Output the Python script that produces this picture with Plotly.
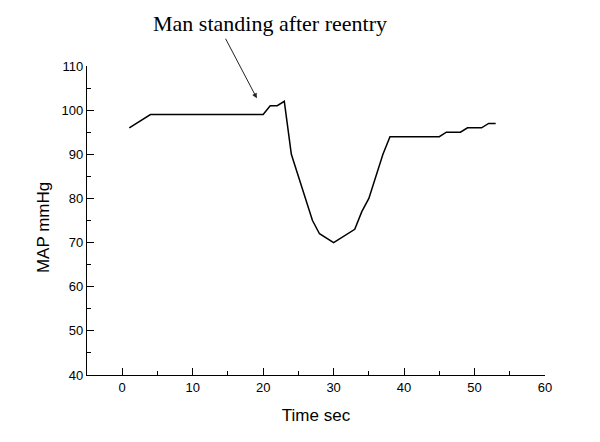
import plotly.graph_objects as go

time_sec = [1, 4, 20, 21, 22, 23, 24, 25, 26, 27, 28, 30, 33, 34, 35, 36, 37, 38, 45, 46, 48, 49, 51, 52, 53]
map_mmhg = [96, 99, 99, 101, 101, 102, 90, 85, 80, 75, 72, 70, 73, 77, 80, 85, 90, 94, 94, 95, 95, 96, 96, 97, 97]

annot_text = "Man standing after reentry"
x_title = "Time sec"
y_title = "MAP mmHg"
arrow_x = 19.1
arrow_y = 102.7

fig = go.Figure()
fig.add_trace(go.Scatter(x=time_sec, y=map_mmhg, mode="lines",
                         line=dict(color="black", width=1.5), showlegend=False))

# arrow
fig.add_annotation(x=arrow_x, y=arrow_y, xref="x", yref="y", text="",
                   showarrow=True, arrowhead=2, arrowsize=1, arrowwidth=1, arrowcolor="#222",
                   ax=-32, ay=-61, standoff=0)
# text
fig.add_annotation(x=0.40, y=1.139, xref="paper", yref="paper", text=annot_text,
                   showarrow=False, xanchor="center", yanchor="middle",
                   font=dict(family="Liberation Serif, Times New Roman, serif", size=22, color="black"))
# y title
fig.add_annotation(x=-0.095, y=0.477, xref="paper", yref="paper", text=y_title,
                   showarrow=False, xanchor="center", yanchor="middle", textangle=-90,
                   font=dict(family="Liberation Sans, Arial, sans-serif", size=17, color="black"))

axis_common = dict(showline=True, linecolor="black", linewidth=1.2, ticks="inside",
                   tickcolor="black", ticklen=7, tickwidth=1.2, showgrid=False, zeroline=False,
                   tickfont=dict(family="Liberation Sans, Arial, sans-serif", size=13, color="black"),
                   mirror=False, automargin=False)

fig.update_layout(
    width=592, height=434,
    margin=dict(l=79, r=55, t=58, b=67),
    paper_bgcolor="white", plot_bgcolor="white",
    xaxis=dict(range=[-5, 60], dtick=10, tick0=0,
               minor=dict(ticks="inside", ticklen=4, tickcolor="black", dtick=5, tick0=0),
               title=dict(text=x_title, font=dict(family="Liberation Sans, Arial, sans-serif", size=17, color="black"), standoff=15),
               **axis_common),
    yaxis=dict(range=[40, 110], dtick=10, tick0=40,
               minor=dict(ticks="inside", ticklen=4, tickcolor="black", dtick=5, tick0=40),
               **axis_common),
)

fig.write_html("out.html")
